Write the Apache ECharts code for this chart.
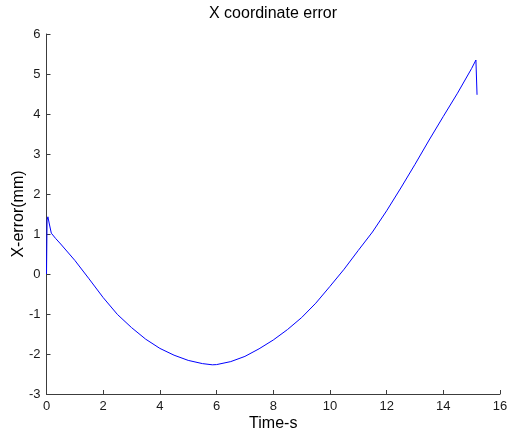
<!DOCTYPE html>
<html>
<head>
<meta charset="utf-8">
<script src="https://cdn.jsdelivr.net/npm/echarts@6/dist/echarts.min.js"></script>
<style>
  html, body { margin: 0; padding: 0; background: #ffffff; }
  #chart { width: 508px; height: 434px; }
</style>
</head>
<body>
<div id="chart"></div>
<script>
// Sample times (s) and X coordinate error (mm)
const times = [0, 0.02, 0.05, 0.1, 0.17, 0.32, 0.5, 1.0, 1.5, 2.0, 2.5, 3.0, 3.5, 4.0, 4.5, 5.0, 5.5, 5.85, 6.0, 6.5, 7.0, 7.5, 8.0, 8.5, 9.0, 9.5, 10.0, 10.5, 11.0, 11.5, 12.0, 12.5, 13.0, 13.5, 14.0, 14.5, 15.0, 15.15, 15.19];
const xError = [0, 1.35, 1.43, 1.25, 1.02, 0.89, 0.75, 0.34, -0.12, -0.59, -1.01, -1.34, -1.63, -1.86, -2.03, -2.16, -2.24, -2.27, -2.265, -2.19, -2.06, -1.87, -1.65, -1.39, -1.09, -0.73, -0.31, 0.12, 0.59, 1.05, 1.58, 2.15, 2.74, 3.35, 3.94, 4.52, 5.14, 5.35, 4.48];

const xTicks = { min: 0, max: 16, step: 2 };
const yTicks = { min: -3, max: 6, step: 1 };

const points = times.map((t, i) => [t, xError[i]]);

const axisColor = '#3c3c3c';
const font = 'Arial, "Liberation Sans", Helvetica, sans-serif';

const chart = echarts.init(document.getElementById('chart'), null, { renderer: 'canvas' });
chart.setOption({
  animation: false,
  backgroundColor: '#ffffff',
  title: {
    text: 'X coordinate error',
    left: 273,
    textAlign: 'center',
    top: 6,
    padding: 0,
    textStyle: { fontFamily: font, fontSize: 16, fontWeight: 'normal', color: '#000000' }
  },
  grid: { left: 46.5, right: 8, top: 34, bottom: 40, containLabel: false, outerBoundsMode: 'none' },
  xAxis: {
    type: 'value',
    min: xTicks.min,
    max: xTicks.max,
    interval: xTicks.step,
    name: 'Time-s',
    nameLocation: 'middle',
    nameGap: 22,
    nameMoveOverlap: false,
    nameTextStyle: { fontFamily: font, fontSize: 16, color: '#000000' },
    axisLine: { show: true, onZero: false, lineStyle: { color: axisColor, width: 1 } },
    axisTick: { show: true, inside: true, length: 4, lineStyle: { color: axisColor } },
    axisLabel: { fontFamily: font, fontSize: 13, color: '#1a1a1a', margin: 6 },
    splitLine: { show: false }
  },
  yAxis: {
    type: 'value',
    min: yTicks.min,
    max: yTicks.max,
    interval: yTicks.step,
    name: 'X-error(mm)',
    nameLocation: 'middle',
    nameGap: 20,
    nameMoveOverlap: false,
    nameRotate: 90,
    nameTextStyle: { fontFamily: font, fontSize: 16, color: '#000000' },
    axisLine: { show: true, onZero: false, lineStyle: { color: axisColor, width: 1 } },
    axisTick: { show: true, inside: true, length: 4, lineStyle: { color: axisColor } },
    axisLabel: { fontFamily: font, fontSize: 13, color: '#1a1a1a', margin: 6 },
    splitLine: { show: false }
  },
  series: [{
    type: 'line',
    data: points,
    showSymbol: false,
    symbol: 'none',
    smooth: false,
    lineStyle: { color: '#0000ff', width: 1 }
  }]
});
</script>
</body>
</html>
